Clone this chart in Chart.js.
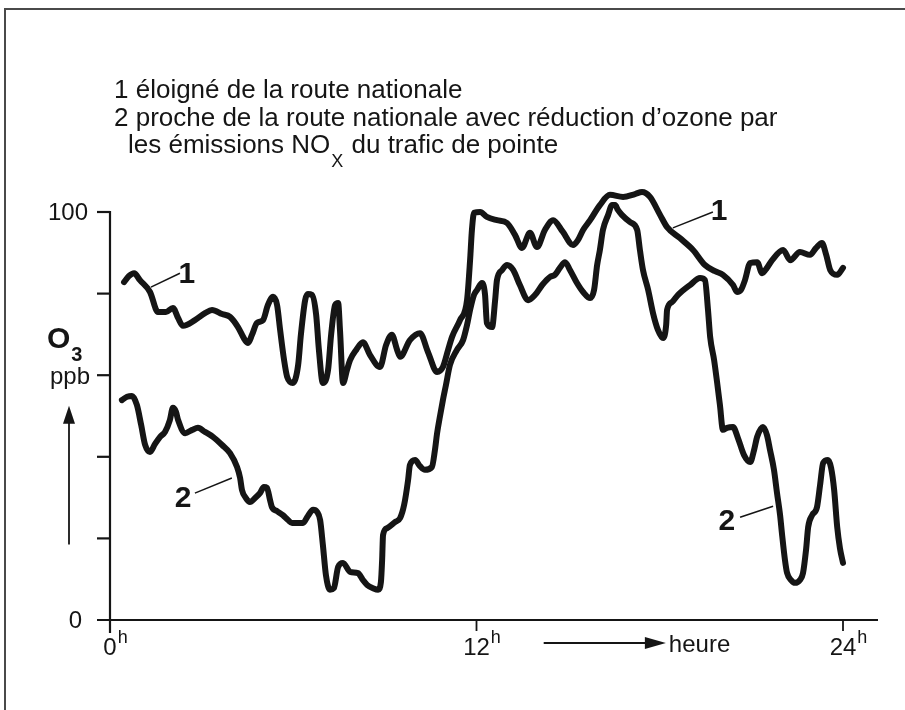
<!DOCTYPE html>
<html lang="fr">
<head>
<meta charset="utf-8">
<title>Ozone - route nationale</title>
<script src="https://cdn.jsdelivr.net/npm/chart.js@4.4.1/dist/chart.umd.min.js"></script>
<style>
    html, body { margin: 0; padding: 0; background: #fff; overflow: hidden; }
    #ozoneChart { display: block; }
</style>
</head>
<body>
<canvas id="ozoneChart" width="905" height="710"></canvas>
<script>
// --- Data ---
// Courbe 1 : éloigné de la route nationale (heure, ppb)
const hours1 = [0.46, 0.62, 0.79, 0.98, 1.31, 1.57, 1.83, 2.06, 2.23, 2.39, 2.78, 3.11, 3.34, 3.67, 3.93, 4.19, 4.42, 4.52, 4.65, 4.81,
    5.01, 5.17, 5.34, 5.47, 5.57, 5.70, 5.80, 5.99, 6.16, 6.25, 6.39, 6.48, 6.61, 6.75, 6.84, 6.97, 7.14, 7.24, 7.37, 7.47,
    7.53, 7.63, 7.76, 7.86, 8.06, 8.28, 8.51, 8.84, 9.04, 9.23, 9.40, 9.50, 9.82, 10.15, 10.41, 10.71, 10.90, 11.07, 11.20, 11.46,
    11.69, 11.79, 11.85, 11.92, 12.12, 12.34, 12.67, 13.00, 13.26, 13.49, 13.75, 13.98, 14.24, 14.51, 14.83, 15.16, 15.32, 15.49, 15.72, 16.04,
    16.37, 16.80, 17.19, 17.42, 17.68, 18.01, 18.24, 18.66, 19.09, 19.48, 19.81, 20.07, 20.40, 20.53, 20.66, 20.79, 20.96, 21.19, 21.35, 21.51,
    21.68, 22.04, 22.27, 22.59, 22.92, 23.12, 23.31, 23.45, 23.58, 23.81, 24.00];
const ozone1 = [82.8, 84.3, 85.0, 83.3, 80.4, 75.5, 75.5, 76.5, 74.0, 72.1, 73.5, 75.2, 76.0, 75.0, 74.3, 71.8, 68.6, 67.9, 69.9, 72.8,
    73.5, 77.2, 79.2, 77.2, 71.1, 63.7, 59.6, 58.1, 62.5, 69.9, 78.4, 79.9, 79.7, 74.8, 66.2, 58.1, 61.3, 69.9, 77.2, 77.7,
    71.1, 58.1, 61.3, 63.7, 66.2, 68.1, 65.0, 62.0, 67.4, 69.9, 66.2, 64.5, 68.6, 70.3, 65.7, 60.8, 62.0, 66.2, 69.4, 73.5,
    78.4, 88.2, 95.6, 99.8, 100.0, 98.8, 98.0, 97.3, 94.4, 91.2, 94.9, 91.4, 95.6, 98.0, 95.1, 91.9, 93.1, 95.6, 98.0, 101.7,
    104.2, 103.7, 104.4, 104.9, 103.7, 99.3, 96.3, 93.6, 90.7, 87.0, 85.5, 84.6, 82.1, 80.4, 80.9, 83.3, 87.5, 87.7, 85.0, 86.3,
    88.2, 90.7, 88.2, 90.2, 89.5, 91.2, 92.4, 89.5, 85.8, 84.6, 86.3];

// Courbe 2 : proche de la route nationale (heure, ppb)
const hours2 = [0.39, 0.56, 0.72, 0.88, 1.02, 1.15, 1.31, 1.47, 1.64, 1.80, 1.96, 2.06, 2.16, 2.23, 2.46, 2.69, 2.88, 3.11, 3.37, 3.67,
    3.93, 4.16, 4.26, 4.32, 4.45, 4.58, 4.75, 4.91, 5.04, 5.14, 5.24, 5.30, 5.47, 5.66, 5.83, 5.96, 6.12, 6.32, 6.48, 6.65,
    6.78, 6.88, 6.97, 7.07, 7.20, 7.33, 7.47, 7.63, 7.86, 8.12, 8.28, 8.42, 8.61, 8.78, 8.87, 8.91, 8.94, 9.07, 9.33, 9.50,
    9.63, 9.76, 9.82, 9.99, 10.15, 10.31, 10.54, 10.64, 10.71, 10.81, 10.90, 11.00, 11.13, 11.36, 11.56, 11.69, 11.79, 11.92, 12.02, 12.18,
    12.28, 12.34, 12.51, 12.61, 12.67, 12.84, 13.00, 13.20, 13.42, 13.69, 13.92, 14.15, 14.41, 14.57, 14.73, 14.90, 15.06, 15.29, 15.49, 15.72,
    15.85, 15.95, 16.04, 16.14, 16.31, 16.44, 16.54, 16.63, 16.76, 17.03, 17.26, 17.35, 17.45, 17.62, 17.78, 17.94, 18.11, 18.21, 18.24, 18.40,
    18.60, 18.99, 19.32, 19.48, 19.58, 19.65, 19.78, 19.88, 19.97, 20.07, 20.20, 20.40, 20.56, 20.76, 20.96, 21.09, 21.19, 21.38, 21.51, 21.61,
    21.74, 21.84, 21.94, 22.00, 22.10, 22.17, 22.30, 22.43, 22.59, 22.69, 22.79, 22.86, 22.99, 23.15, 23.25, 23.35, 23.51, 23.61, 23.71, 23.81,
    23.90, 24.00];
const ozone2 = [53.9, 54.7, 54.9, 52.7, 47.8, 42.9, 41.2, 43.1, 44.9, 46.1, 49.0, 52.0, 51.0, 49.0, 45.8, 46.6, 47.1, 46.1, 44.9, 42.9,
    40.9, 37.5, 34.8, 31.9, 29.9, 28.9, 29.9, 31.1, 32.6, 32.4, 29.4, 27.7, 26.7, 25.7, 24.5, 23.8, 23.8, 23.8, 25.5, 27.0,
    26.5, 24.5, 18.4, 11.0, 7.4, 7.8, 13.0, 14.0, 11.8, 11.5, 9.8, 8.6, 7.8, 7.4, 9.3, 14.7, 20.8, 22.5, 24.0, 25.0,
    28.2, 34.3, 38.0, 39.2, 37.7, 36.8, 37.5, 41.7, 45.8, 50.2, 53.9, 57.6, 62.5, 66.2, 68.6, 72.3, 76.0, 79.7, 80.9, 82.6,
    79.7, 72.8, 71.8, 78.4, 83.3, 85.8, 87.0, 85.8, 82.1, 78.4, 79.7, 82.1, 84.1, 84.6, 86.3, 87.7, 85.8, 82.6, 80.4, 78.9,
    80.9, 87.0, 90.7, 95.6, 99.3, 101.7, 101.7, 100.5, 99.3, 97.5, 95.6, 90.7, 85.8, 80.9, 75.2, 71.1, 69.1, 72.3, 76.0, 77.9,
    79.7, 82.1, 83.8, 83.3, 76.0, 69.4, 63.7, 58.1, 52.7, 46.6, 47.1, 47.3, 44.6, 40.4, 38.7, 41.7, 44.9, 47.3, 45.3, 41.7,
    36.8, 31.1, 25.7, 21.3, 14.7, 11.5, 9.8, 9.1, 9.8, 11.5, 17.2, 22.8, 25.7, 27.7, 33.1, 38.5, 39.2, 37.3, 31.9, 22.8,
    17.6, 14.0];

// Axis ticks
const yTicks = [0, 20, 40, 60, 80, 100];
const yTickLabels = { 0: '0', 100: '100' };
const xTicks = [0, 12, 24];
const xTickLabels = ['0', '12', '24'];

// Legend text
const legendLines = [
    '1 éloigné de la route nationale',
    '2 proche de la route nationale avec réduction d’ozone par'
];

// Curve labels with leader lines, in data units (heure, ppb)
const curveLabels = [
    { text: '1', from: [1.34, 81.6], to: [2.29, 85.0], at: [2.52, 82.6] },
    { text: '1', from: [18.43, 96.1], to: [19.74, 100.0], at: [19.94, 98.0] },
    { text: '2', from: [2.78, 31.1], to: [3.99, 34.8], at: [2.39, 27.7] },
    { text: '2', from: [20.63, 25.2], to: [21.71, 27.9], at: [20.20, 22.1] }
];

// --- Helpers ---
const FONT = '"Liberation Sans", Arial, Helvetica, sans-serif';
const INK = '#151515';

function toPoints(xs, ys) {
    return xs.map((x, i) => ({ x: x, y: ys[i] }));
}

function line(ctx, x1, y1, x2, y2, width) {
    ctx.beginPath();
    ctx.lineWidth = width;
    ctx.moveTo(x1, y1);
    ctx.lineTo(x2, y2);
    ctx.stroke();
}

// draw text followed by a raised / lowered small run, returns end x
function textWithScript(ctx, x, y, main, script, size, scriptSize, shift, weight) {
    ctx.font = `${weight || 'normal'} ${size}px ${FONT}`;
    ctx.fillText(main, x, y);
    let w = ctx.measureText(main).width;
    ctx.font = `${weight || 'normal'} ${scriptSize}px ${FONT}`;
    ctx.fillText(script, x + w + 1, y + shift);
    return x + w + 1 + ctx.measureText(script).width;
}

// --- Decorations plugin (frame, axes, labels) ---
const figurePlugin = {
    id: 'figure',
    beforeDraw(chart) {
        const ctx = chart.ctx;
        ctx.save();
        ctx.strokeStyle = '#4a4a4a';
        ctx.lineWidth = 2;
        ctx.beginPath();
        ctx.moveTo(5, chart.height + 5);
        ctx.lineTo(5, 9);
        ctx.lineTo(chart.width + 5, 9);
        ctx.stroke();
        ctx.restore();
    },
    afterDatasetsDraw(chart) {
        const ctx = chart.ctx;
        const xs = chart.scales.x;
        const ys = chart.scales.y;
        const x0 = xs.getPixelForValue(0);
        const y0 = ys.getPixelForValue(0);
        const xEnd = xs.getPixelForValue(24);

        ctx.save();
        ctx.strokeStyle = INK;
        ctx.fillStyle = INK;
        ctx.lineCap = 'butt';

        // axes
        line(ctx, x0, ys.getPixelForValue(100) - 1, x0, y0 + 13, 2.2);
        line(ctx, x0 - 13, y0, xEnd + 35, y0, 2.2);
        yTicks.forEach(v => {
            if (v === 0) return;
            const py = ys.getPixelForValue(v);
            line(ctx, x0 - 13, py, x0, py, 2.2);
        });
        xTicks.forEach(h => {
            if (h === 0) return;
            const px = xs.getPixelForValue(h);
            line(ctx, px, y0, px, y0 + 11, 1.8);
        });

        // y tick labels
        ctx.textBaseline = 'middle';
        ctx.textAlign = 'right';
        ctx.font = `24px ${FONT}`;
        Object.keys(yTickLabels).forEach(v => {
            const offset = Number(v) === 0 ? 28 : 22;
            ctx.fillText(yTickLabels[v], x0 - offset, ys.getPixelForValue(Number(v)) + 1);
        });

        // x tick labels with superscript h
        ctx.textBaseline = 'alphabetic';
        xTicks.forEach((h, i) => {
            const px = xs.getPixelForValue(h);
            ctx.font = `24px ${FONT}`;
            const w = ctx.measureText(xTickLabels[i]).width;
            ctx.textAlign = 'left';
            textWithScript(ctx, px - w / 2, y0 + 35, xTickLabels[i], 'h', 24, 18, -12);
        });

        // heure arrow
        const ax1 = xs.getPixelForValue(14.2);
        const ax2 = xs.getPixelForValue(18.2);
        const ay = y0 + 23;
        line(ctx, ax1, ay, ax2 - 18, ay, 2);
        ctx.beginPath();
        ctx.moveTo(ax2, ay);
        ctx.lineTo(ax2 - 21, ay - 6);
        ctx.lineTo(ax2 - 21, ay + 6);
        ctx.closePath();
        ctx.fill();
        ctx.font = `24px ${FONT}`;
        ctx.textAlign = 'left';
        ctx.fillText('heure', ax2 + 3, y0 + 32);

        // y axis title: O3 / ppb and upward arrow
        const yPpb = ys.getPixelForValue(60);
        textWithScript(ctx, 47, yPpb - 27, 'O', '3', 30, 20, 13, 'bold');
        ctx.font = `24px ${FONT}`;
        ctx.textAlign = 'right';
        ctx.textBaseline = 'middle';
        ctx.fillText('ppb', x0 - 20, yPpb + 2);
        const arrowX = 69;
        const arrowTop = ys.getPixelForValue(52.5);
        line(ctx, arrowX, ys.getPixelForValue(18.5), arrowX, arrowTop + 14, 1.8);
        ctx.beginPath();
        ctx.moveTo(arrowX, arrowTop);
        ctx.lineTo(arrowX - 6, arrowTop + 18);
        ctx.lineTo(arrowX + 6, arrowTop + 18);
        ctx.closePath();
        ctx.fill();

        // legend
        ctx.textAlign = 'left';
        ctx.textBaseline = 'alphabetic';
        ctx.font = `26px ${FONT}`;
        ctx.fillText(legendLines[0], 114, 98);
        ctx.fillText(legendLines[1], 114, 126);
        const endNo = textWithScript(ctx, 128, 153, 'les émissions NO', 'X', 26, 18, 14);
        ctx.font = `26px ${FONT}`;
        ctx.fillText(' du trafic de pointe', endNo + 1, 153);

        // curve labels
        curveLabels.forEach(lbl => {
            line(ctx, xs.getPixelForValue(lbl.from[0]), ys.getPixelForValue(lbl.from[1]),
                xs.getPixelForValue(lbl.to[0]), ys.getPixelForValue(lbl.to[1]), 1.5);
            ctx.font = `bold 30px ${FONT}`;
            ctx.textAlign = 'center';
            ctx.fillText(lbl.text, xs.getPixelForValue(lbl.at[0]), ys.getPixelForValue(lbl.at[1]));
        });
        ctx.restore();
    }
};

// --- Chart ---
const ctx = document.getElementById('ozoneChart').getContext('2d');
const seriesStyle = {
    borderColor: INK, borderWidth: 6, pointRadius: 0, fill: false,
    cubicInterpolationMode: 'monotone', borderCapStyle: 'round', borderJoinStyle: 'round', clip: false
};

new Chart(ctx, {
    type: 'line',
    data: {
        datasets: [
            Object.assign({ label: '1 éloigné de la route nationale', data: toPoints(hours1, ozone1) }, seriesStyle),
            Object.assign({ label: '2 proche de la route nationale', data: toPoints(hours2, ozone2) }, seriesStyle)
        ]
    },
    options: {
        responsive: false, animation: false,
        layout: { padding: { left: 110, right: 62, top: 212, bottom: 90 } },
        scales: {
            x: { type: 'linear', min: 0, max: 24, display: false },
            y: { type: 'linear', min: 0, max: 100, display: false }
        },
        plugins: { legend: { display: false }, tooltip: { enabled: false } }
    },
    plugins: [figurePlugin]
});
</script>
</body>
</html>
